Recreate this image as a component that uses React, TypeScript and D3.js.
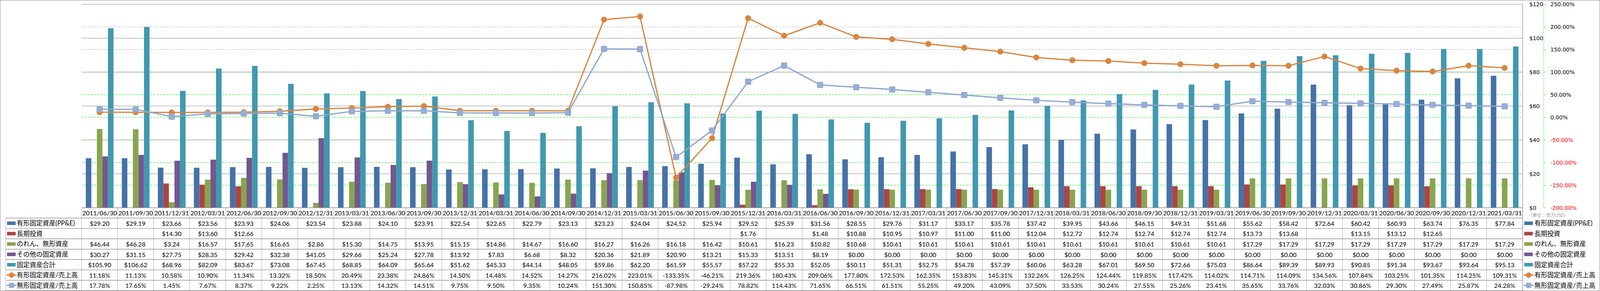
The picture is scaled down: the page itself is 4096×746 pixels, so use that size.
import React from 'react';
import * as d3 from 'd3';

const dates = [
  '2011/06/30', '2011/09/30', '2011/12/31', '2012/03/31', '2012/06/30', '2012/09/30', '2012/12/31', '2013/03/31',
  '2013/06/30', '2013/09/30', '2013/12/31', '2014/03/31', '2014/06/30', '2014/09/30', '2014/12/31', '2015/03/31',
  '2015/06/30', '2015/09/30', '2015/12/31', '2016/03/31', '2016/06/30', '2016/09/30', '2016/12/31', '2017/03/31',
  '2017/06/30', '2017/09/30', '2017/12/31', '2018/03/31', '2018/06/30', '2018/09/30', '2018/12/31', '2019/03/31',
  '2019/06/30', '2019/09/30', '2019/12/31', '2020/03/31', '2020/06/30', '2020/09/30', '2020/12/31', '2021/03/31',
];

const ppe = [
  29.20, 29.19, 23.66, 23.56, 23.93, 24.06, 23.54, 23.88, 24.10, 23.91, 22.54, 22.65, 22.79, 23.13, 23.23, 24.04,
  24.52, 25.94, 29.52, 25.59, 31.56, 28.55, 29.76, 31.17, 33.17, 35.78, 37.42, 39.95, 43.66, 46.15, 49.31, 51.68,
  55.62, 58.42, 72.64, 60.42, 60.93, 63.74, 76.35, 77.84,
];

const longTermInv: (number | null)[] = [
  null, null, 14.30, 13.60, 12.66, null, null, null, null, null, null, null, null, null, null, null,
  null, null, 1.76, null, 1.48, 10.88, 10.95, 10.97, 11.00, 11.00, 12.04, 12.72, 12.74, 12.74, 12.74, 12.74,
  13.73, 13.68, null, 13.15, 13.12, 12.65, null, null,
];

const goodwill = [
  46.44, 46.28, 3.24, 16.57, 17.65, 16.65, 2.86, 15.30, 14.75, 13.95, 15.15, 14.86, 14.67, 16.60, 16.27, 16.26,
  16.18, 16.42, 10.61, 16.23, 10.82, 10.68, 10.61, 10.61, 10.61, 10.61, 10.61, 10.61, 10.61, 10.61, 10.61, 10.61,
  17.29, 17.29, 17.29, 17.29, 17.29, 17.29, 17.29, 17.29,
];

const otherFixed = [
  30.27, 31.15, 27.75, 28.35, 29.42, 32.38, 41.05, 29.66, 25.24, 27.78, 13.92, 7.83, 6.68, 8.32, 20.36, 21.89,
  20.90, 13.21, 15.33, 13.51, 8.19, 0.00, 0.00, 0.00, 0.00, 0.00, 0.00, 0.00, 0.00, 0.00, 0.00, 0.00,
  0.00, 0.00, 0.00, 0.00, 0.00, 0.00, 0.00, 0.00,
];

const totalFixed = [
  105.90, 106.62, 68.96, 82.09, 83.67, 73.08, 67.45, 68.85, 64.09, 65.64, 51.62, 45.33, 44.14, 48.05, 59.86, 62.20,
  61.59, 55.57, 57.22, 55.33, 52.05, 50.11, 51.31, 52.75, 54.78, 57.39, 60.06, 63.28, 67.01, 69.50, 72.66, 75.03,
  86.64, 89.39, 89.93, 90.85, 91.34, 93.67, 93.64, 95.13,
];

const ppeToSales = [
  11.18, 11.13, 10.58, 10.90, 11.34, 13.32, 18.50, 20.49, 23.38, 24.86, 14.50, 14.48, 14.52, 14.27, 216.02, 223.01,
  -133.35, -46.21, 219.36, 180.43, 209.06, 177.80, 172.53, 162.35, 153.83, 145.31, 132.26, 126.25, 124.44, 119.85, 117.42, 114.02,
  114.71, 114.09, 134.56, 107.84, 103.25, 101.35, 114.25, 109.31,
];

const intangibleToSales = [
  17.78, 17.65, 1.45, 7.67, 8.37, 9.22, 2.25, 13.13, 14.32, 14.51, 9.75, 9.50, 9.35, 10.24, 151.30, 150.85,
  -87.98, -29.24, 78.82, 114.43, 71.65, 66.51, 61.51, 55.25, 49.20, 43.09, 37.50, 33.53, 30.24, 27.55, 25.26, 23.41,
  35.65, 33.76, 32.03, 30.86, 29.30, 27.49, 25.87, 24.28,
];

const dollarTicks = [0, 20, 40, 60, 80, 100, 120];
const pctTicks = [-200, -150, -100, -50, 0, 50, 100, 150, 200, 250];
const unitLabel = '（単位：百万USD）';

type Row = {
  name: string;
  kind: 'bar' | 'line';
  color: string;
  values: (number | null)[];
  marker?: 'circle' | 'square';
};

const rows: Row[] = [
  { name: '有形固定資産(PP&E)', kind: 'bar', color: '#4572A7', values: ppe },
  { name: '長期投資', kind: 'bar', color: '#AA4643', values: longTermInv },
  { name: 'のれん、無形資産', kind: 'bar', color: '#89A54E', values: goodwill },
  { name: 'その他の固定資産', kind: 'bar', color: '#71588F', values: otherFixed },
  { name: '固定資産合計', kind: 'bar', color: '#4198AF', values: totalFixed },
  { name: '有形固定資産/売上高', kind: 'line', color: '#DB843D', values: ppeToSales, marker: 'circle' },
  { name: '無形固定資産/売上高', kind: 'line', color: '#8FA6CE', values: intangibleToSales, marker: 'square' },
];

const W = 4096;
const H = 746;
const PLOT_L = 209;
const PLOT_R = 3898;
const PLOT_T = 11;
const PLOT_B = 532.5;
const TABLE_B = 745;
const ROW_H = (TABLE_B - PLOT_B) / 8;
const LABEL_L = 14.6;

const TABLE_FONT = 'Lato, "Noto Sans CJK JP", sans-serif';
const AXIS_FONT = '"DejaVu Sans", "Noto Sans CJK JP", sans-serif';

const fmtDollar = (v: number | null) => (v == null ? '' : '$' + v.toFixed(2));
const fmtPct = (v: number | null) => (v == null ? '' : v.toFixed(2) + '%');

function Marker({ kind, x, y, color, size }: { kind?: string; x: number; y: number; color: string; size: number }) {
  if (kind === 'circle') {
    return <circle cx={x} cy={y} r={size / 2} fill={color} stroke={color} strokeWidth={0.8} />;
  }
  return (
    <rect
      x={x - size / 2}
      y={y - size / 2}
      width={size}
      height={size}
      rx={2}
      fill="#97ADD3"
      stroke={color}
      strokeWidth={1.2}
    />
  );
}

function LegendSymbol({ row, x, y }: { row: Row; x: number; y: number }) {
  if (row.kind === 'bar') {
    return <rect x={x} y={y - 4.5} width={22} height={9} fill={row.color} />;
  }
  return (
    <g>
      <line x1={x - 1} x2={x + 24} y1={y} y2={y} stroke={row.color} strokeWidth={3.5} />
      <Marker kind={row.marker} x={x + 11.5} y={y} color={row.color} size={row.marker === 'circle' ? 13 : 12} />
    </g>
  );
}

export default function App() {
  const x = d3.scaleBand<string>().domain(dates).range([PLOT_L, PLOT_R]).padding(0);
  const barRows = rows.filter((r) => r.kind === 'bar');
  const inner = d3
    .scaleBand<string>()
    .domain(barRows.map((r) => r.name))
    .range([0, x.bandwidth()])
    .paddingInner(0)
    .paddingOuter(0.75);
  const yL = d3.scaleLinear().domain([0, 120]).range([PLOT_B, PLOT_T]);
  const yR = d3.scaleLinear().domain([-200, 250]).range([PLOT_B, PLOT_T]);
  const cx = (d: string) => (x(d) as number) + x.bandwidth() / 2;

  const lineRows = rows.filter((r) => r.kind === 'line');
  const lineGen = d3
    .line<number>()
    .x((_, i) => cx(dates[i]))
    .y((v) => yR(v));

  const colBounds = d3.range(dates.length + 1).map((i) => PLOT_L + i * x.step());
  const rowY = (i: number) => PLOT_B + ROW_H * i; // top of row i (0 = date row)

  return (
    <svg
      width={W}
      height={H}
      viewBox={`0 0 ${W} ${H}`}
      style={{ position: 'absolute', left: 0, top: 0, display: 'block', background: '#fff' }}
    >
      <rect x={0} y={0} width={W} height={H} fill="#ffffff" />

      {/* dashed secondary-axis gridlines */}
      {pctTicks
        .filter((t) => t > -200 && t < 250)
        .map((t) => (
          <line
            key={'pg' + t}
            x1={PLOT_L}
            x2={PLOT_R}
            y1={yR(t)}
            y2={yR(t)}
            stroke={t >= 150 ? '#a8a8a8' : '#00ee00'}
            strokeWidth={1}
            strokeDasharray="5,3"
          />
        ))}
      {/* solid primary gridlines */}
      {dollarTicks
        .filter((t) => t > 0)
        .map((t) => (
          <line key={'dg' + t} x1={PLOT_L} x2={PLOT_R} y1={yL(t)} y2={yL(t)} stroke="#8a8a8a" strokeWidth={1} />
        ))}

      {/* bars */}
      {barRows.map((r) => (
        <g key={'bars' + r.name}>
          {r.values.map((v, i) =>
            v == null || v <= 0 ? null : (
              <rect
                key={i}
                x={(x(dates[i]) as number) + (inner(r.name) as number)}
                y={yL(v)}
                width={inner.bandwidth()}
                height={yL(0) - yL(v)}
                fill={r.color}
              />
            ),
          )}
        </g>
      ))}

      {/* lines */}
      {lineRows.map((r) => (
        <g key={'line' + r.name}>
          <path
            d={lineGen(r.values as number[]) || ''}
            fill="none"
            stroke={r.color}
            strokeWidth={3.2}
            strokeLinejoin="round"
          />
          {r.values.map((v, i) =>
            v == null ? null : (
              <Marker
                key={i}
                kind={r.marker}
                x={cx(dates[i])}
                y={yR(v)}
                color={r.color}
                size={r.marker === 'circle' ? 14.5 : 14.5}
              />
            ),
          )}
        </g>
      ))}

      {/* plot right border */}
      <line x1={PLOT_R} x2={PLOT_R} y1={PLOT_T} y2={TABLE_B} stroke="#8a8a8a" strokeWidth={1.2} />

      {/* table horizontal lines */}
      <line x1={PLOT_L} x2={PLOT_R} y1={PLOT_B} y2={PLOT_B} stroke="#8a8a8a" strokeWidth={1.4} />
      {d3.range(1, 9).map((i) => (
        <line key={'hr' + i} x1={LABEL_L} x2={PLOT_R} y1={rowY(i)} y2={rowY(i)} stroke="#8f8f8f" strokeWidth={1.4} />
      ))}
      {/* table vertical lines */}
      {colBounds.map((bx, i) => (
        <line key={'vc' + i} x1={bx} x2={bx} y1={PLOT_B} y2={TABLE_B} stroke="#a6a6a6" strokeWidth={1} />
      ))}
      <line x1={LABEL_L} x2={LABEL_L} y1={rowY(1)} y2={TABLE_B} stroke="#a6a6a6" strokeWidth={1} />

      {/* date row */}
      {dates.map((d) => (
        <text
          key={'d' + d}
          x={cx(d)}
          y={rowY(0) + ROW_H / 2}
          textAnchor="middle"
          dominantBaseline="central"
          fontFamily={TABLE_FONT}
          fontSize={16}
          fill="#000"
        >
          {d}
        </text>
      ))}

      {/* data rows */}
      {rows.map((r, ri) => {
        const yc = rowY(ri + 1) + ROW_H / 2;
        const fmt = r.kind === 'bar' ? fmtDollar : fmtPct;
        return (
          <g key={'row' + r.name}>
            <LegendSymbol row={r} x={18} y={yc} />
            <text
              x={43}
              y={yc}
              dominantBaseline="central"
              fontFamily={TABLE_FONT}
              fontSize={16.5}
              fill="#000"
            >
              {r.name}
            </text>
            {r.values.map((v, i) => (
              <text
                key={i}
                x={cx(dates[i])}
                y={yc}
                textAnchor="middle"
                dominantBaseline="central"
                fontFamily={TABLE_FONT}
                fontSize={16}
                fill="#000"
              >
                {fmt(v)}
              </text>
            ))}
            {/* right legend */}
            <LegendSymbol row={r} x={3902} y={yc} />
            <text
              x={3928}
              y={yc}
              dominantBaseline="central"
              fontFamily={TABLE_FONT}
              fontSize={16.5}
              fill="#000"
            >
              {r.name}
            </text>
          </g>
        );
      })}

      {/* right axes */}
      <line
        x1={3952}
        x2={3952}
        y1={PLOT_T}
        y2={PLOT_B}
        stroke="#00ee00"
        strokeWidth={1.2}
        strokeDasharray="2,2"
      />
      {pctTicks.map((t) => (
        <g key={'pt' + t}>
          <line
            x1={3952}
            x2={3958}
            y1={yR(t)}
            y2={yR(t)}
            stroke="#00ee00"
            strokeWidth={1.2}
            strokeDasharray="2,1"
          />
          <text
            x={3969}
            y={yR(t)}
            dominantBaseline="central"
            fontFamily={AXIS_FONT}
            fontSize={14}
            fill={t < 0 ? '#ff0000' : '#000000'}
          >
            {t.toFixed(2) + '%'}
          </text>
        </g>
      ))}
      {dollarTicks.map((t) => (
        <text
          key={'dt' + t}
          x={3915}
          y={yL(t)}
          dominantBaseline="central"
          fontFamily={AXIS_FONT}
          fontSize={14}
          fill="#000"
        >
          {'$' + t}
        </text>
      ))}
      <text
        x={3912}
        y={551}
        dominantBaseline="central"
        fontFamily={'"Noto Sans CJK JP", sans-serif'}
        fontSize={11.5}
        fontWeight={300}
        fill="#666"
      >
        {unitLabel}
      </text>

      {/* outer border */}
      <rect x={0.5} y={0.5} width={W - 1} height={H - 1} fill="none" stroke="#8a8a8a" strokeWidth={1} />
    </svg>
  );
}
